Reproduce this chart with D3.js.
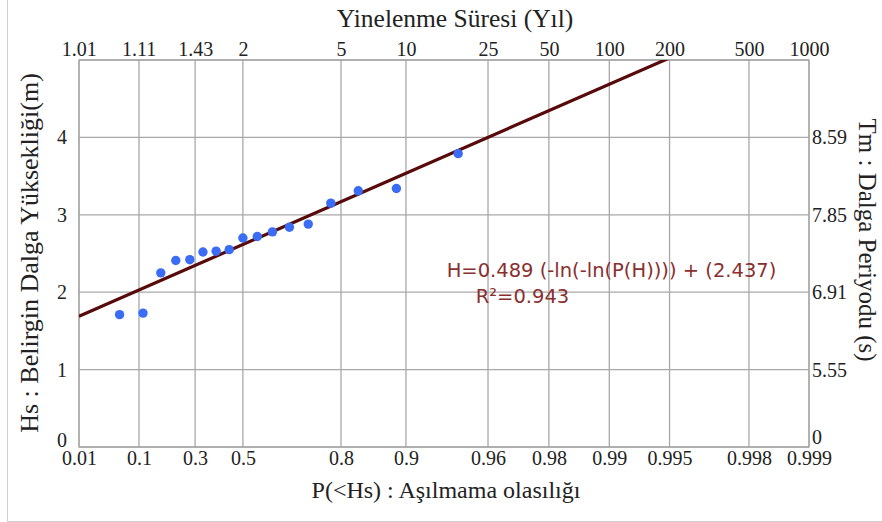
<!DOCTYPE html>
<html>
<head>
<meta charset="utf-8">
<script src="https://cdn.jsdelivr.net/npm/d3@7"></script>
<style>
  html, body { margin: 0; padding: 0; background: #fff; }
  svg { display: block; }
  .tick text { font-family: "Liberation Serif", "Times New Roman", serif; fill: #222; }
</style>
</head>
<body>
<svg id="chart" width="882" height="522"></svg>
<script>
// Gumbel probability paper: non-exceedance probability ticks (bottom)
const probTicks  = [0.01, 0.1, 0.3, 0.5, 0.8, 0.9, 0.96, 0.98, 0.99, 0.995, 0.998, 0.999];
const probLabels = ["0.01", "0.1", "0.3", "0.5", "0.8", "0.9", "0.96", "0.98", "0.99", "0.995", "0.998", "0.999"];

// Return periods in years (top)
const returnPeriods = [1.01, 1.11, 1.43, 2, 5, 10, 25, 50, 100, 200, 500, 1000];
const returnLabels  = ["1.01", "1.11", "1.43", "2", "5", "10", "25", "50", "100", "200", "500", "1000"];

// Significant wave height ticks (left) and matching mean wave periods (right)
const hsTicks  = [0, 1, 2, 3, 4];
const tmLabels = ["0", "5.55", "6.91", "7.85", "8.59"];

// Observed annual maxima: plotting probability and Hs (m)
const obsProb = [0.056, 0.111, 0.167, 0.222, 0.278, 0.333, 0.389, 0.444, 0.500,
                 0.556, 0.611, 0.667, 0.722, 0.778, 0.833, 0.889, 0.944];
const obsHs   = [1.71, 1.73, 2.25, 2.41, 2.42, 2.52, 2.53, 2.55, 2.70,
                 2.72, 2.78, 2.84, 2.88, 3.15, 3.31, 3.34, 3.79];

// Fitted Gumbel line: H = a * (-ln(-ln P)) + b
const fitSlope = 0.489;
const fitIntercept = 2.437;
const fitR2 = 0.943;

const gumbel = p => -Math.log(-Math.log(p));

const svg = d3.select("#chart");
const plotLeft = 79, plotRight = 809, plotTop = 60, plotBottom = 447;

const x = d3.scaleLinear().domain([gumbel(0.01), gumbel(0.999)]).range([plotLeft, plotRight]);
const y = d3.scaleLinear().domain([0, 5]).range([plotBottom, plotTop]);

// frame lines around the figure
svg.append("line").attr("x1", 7.5).attr("x2", 7.5).attr("y1", 0).attr("y2", 521.5)
  .attr("stroke", "#cfcfcf").attr("stroke-width", 1);
svg.append("line").attr("x1", 7.5).attr("x2", 882).attr("y1", 521.5).attr("y2", 521.5)
  .attr("stroke", "#cfcfcf").attr("stroke-width", 1);

const gridColor = "#a8a8a8";

// grid
const grid = svg.append("g");
grid.selectAll("line.v").data(probTicks).join("line")
  .attr("class", "v")
  .attr("x1", d => x(gumbel(d))).attr("x2", d => x(gumbel(d)))
  .attr("y1", plotTop).attr("y2", plotBottom)
  .attr("stroke", gridColor).attr("stroke-width", 1.3);
grid.selectAll("line.h").data([0, 1, 2, 3, 4, 5]).join("line")
  .attr("class", "h")
  .attr("x1", plotLeft).attr("x2", plotRight)
  .attr("y1", d => y(d)).attr("y2", d => y(d))
  .attr("stroke", gridColor).attr("stroke-width", 1.3);

// axes (labels only; grid lines carry the ticks)
const fs = "20px";
const bottomAxis = d3.axisBottom(x)
  .tickValues(probTicks.map(gumbel))
  .tickFormat((d, i) => probLabels[i])
  .tickSize(0).tickPadding(4);
const gB = svg.append("g").attr("transform", `translate(0,${plotBottom})`).call(bottomAxis);

const topAxis = d3.axisTop(x)
  .tickValues(returnPeriods.map(T => gumbel(1 - 1 / T)))
  .tickFormat((d, i) => returnLabels[i])
  .tickSize(0).tickPadding(4);
const gT = svg.append("g").attr("transform", `translate(0,${plotTop})`).call(topAxis);

const leftAxis = d3.axisLeft(y)
  .tickValues(hsTicks)
  .tickFormat(d => String(d))
  .tickSize(0).tickPadding(12);
const gL = svg.append("g").attr("transform", `translate(${plotLeft},0)`).call(leftAxis);

const rightAxis = d3.axisRight(y)
  .tickValues(hsTicks)
  .tickFormat((d, i) => tmLabels[i])
  .tickSize(0).tickPadding(3);
const gR = svg.append("g").attr("transform", `translate(${plotRight},0)`).call(rightAxis);

[gB, gT, gL, gR].forEach(g => {
  g.select(".domain").remove();
  g.selectAll(".tick text").style("font-size", fs);
});
gL.selectAll(".tick").filter(d => d === 0).select("text").attr("dy", "-0.05em");
gR.selectAll(".tick").filter(d => d === 0).select("text").attr("dy", "-0.2em");

// plot border
svg.append("rect").attr("x", plotLeft).attr("y", plotTop)
  .attr("width", plotRight - plotLeft).attr("height", plotBottom - plotTop)
  .attr("fill", "none").attr("stroke", gridColor).attr("stroke-width", 1.3);

// fitted line, clipped to the plot area
svg.append("clipPath").attr("id", "plotClip").append("rect")
  .attr("x", plotLeft).attr("y", plotTop)
  .attr("width", plotRight - plotLeft).attr("height", plotBottom - plotTop);
const xDom = x.domain();
svg.append("line")
  .attr("clip-path", "url(#plotClip)")
  .attr("x1", x(xDom[0])).attr("y1", y(fitSlope * xDom[0] + fitIntercept))
  .attr("x2", x(xDom[1])).attr("y2", y(fitSlope * xDom[1] + fitIntercept))
  .attr("stroke", "#580a0a").attr("stroke-width", 3.2);

// observed points
svg.append("g").selectAll("circle").data(obsProb).join("circle")
  .attr("cx", d => x(gumbel(d)))
  .attr("cy", (d, i) => y(obsHs[i]))
  .attr("r", 4.7)
  .attr("fill", "#3a6cf5");

// regression equation
const eqColor = "#8a2f2f";
const eqFont = "'DejaVu Sans', Verdana, sans-serif";
svg.append("text").attr("x", 611.5).attr("y", 277)
  .attr("text-anchor", "middle")
  .style("font-family", eqFont).style("font-size", "19.5px")
  .attr("fill", eqColor)
  .text(`H=${fitSlope} (-ln(-ln(P(H)))) + (${fitIntercept})`);
svg.append("text").attr("x", 522.5).attr("y", 303)
  .attr("text-anchor", "middle")
  .style("font-family", eqFont).style("font-size", "19.5px")
  .attr("fill", eqColor)
  .text(`R²=${fitR2}`);

// axis titles
const titleFont = "'Liberation Serif', 'Times New Roman', serif";
svg.append("text").attr("x", 455).attr("y", 27).attr("text-anchor", "middle")
  .style("font-family", titleFont).style("font-size", "25.5px").attr("fill", "#222")
  .text("Yinelenme Süresi (Yıl)");
svg.append("text").attr("x", 446).attr("y", 498).attr("text-anchor", "middle")
  .style("font-family", titleFont).style("font-size", "24px").attr("fill", "#222")
  .text("P(<Hs) : Aşılmama olasılığı");
svg.append("text").attr("transform", "translate(38,253) rotate(-90)").attr("text-anchor", "middle")
  .style("font-family", titleFont).style("font-size", "26px").attr("fill", "#222")
  .text("Hs : Belirgin Dalga Yüksekliği(m)");
svg.append("text").attr("transform", "translate(859,240) rotate(90)").attr("text-anchor", "middle")
  .style("font-family", titleFont).style("font-size", "25px").attr("fill", "#222")
  .text("Tm : Dalga Periyodu (s)");
</script>
</body>
</html>
